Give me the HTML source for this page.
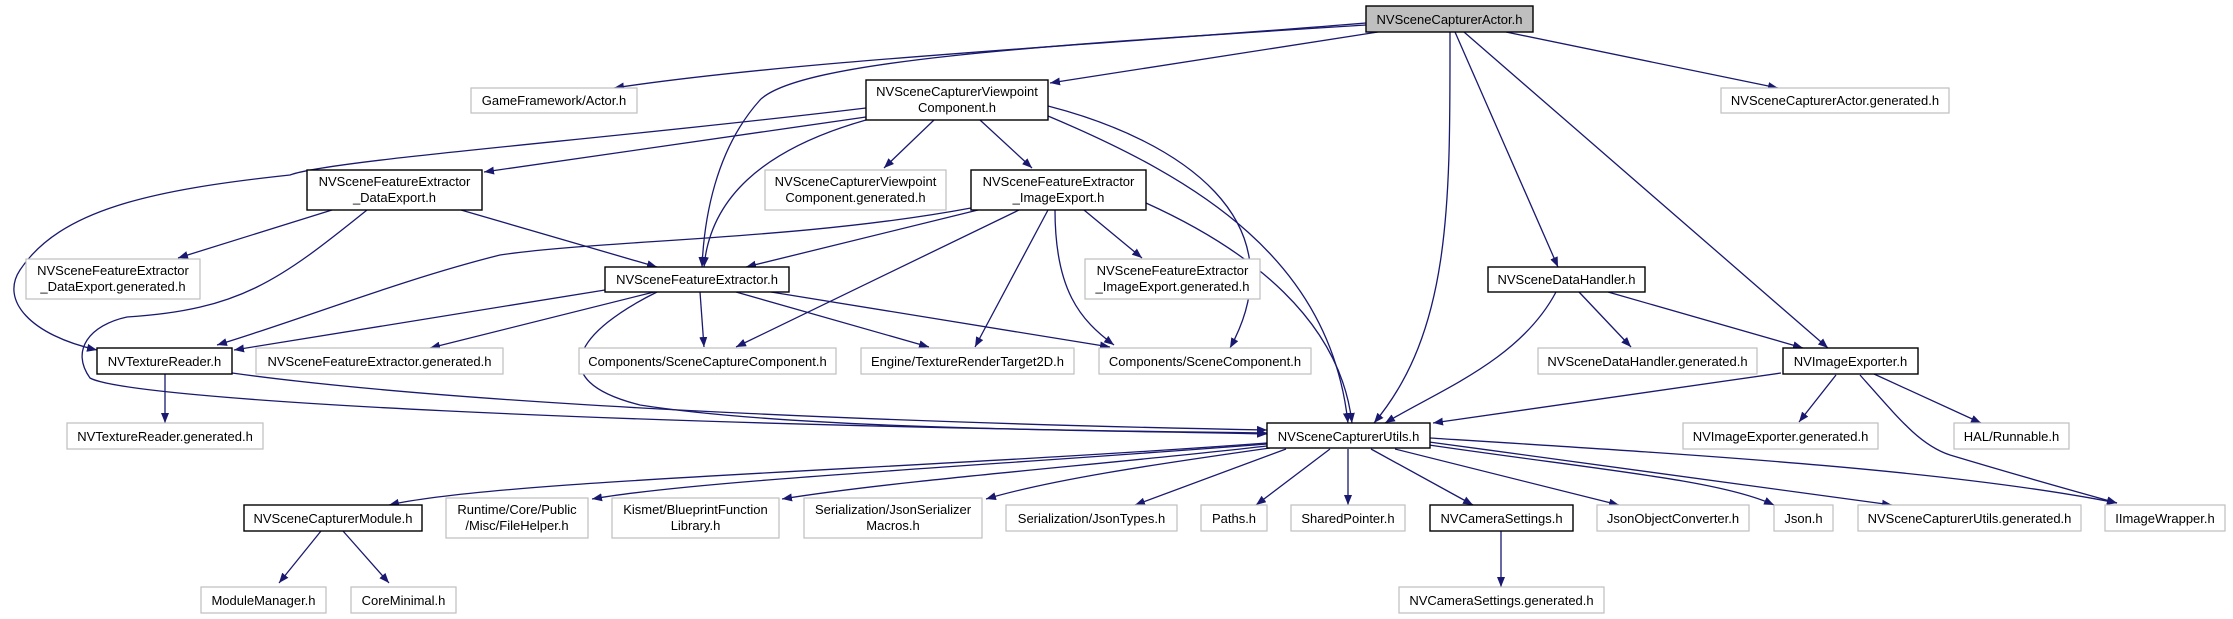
<!DOCTYPE html>
<html><head><meta charset="utf-8"><style>
html,body{margin:0;padding:0;background:#fff;}
svg{display:block;}
text{font-family:"Liberation Sans",sans-serif;font-size:13px;fill:#000;}
.e{fill:none;stroke:#191970;stroke-width:1.3;}
.b{fill:#fff;stroke:#000;stroke-width:1.4;}
.g{fill:#fff;stroke:#bfbfbf;stroke-width:1.2;}
.a{fill:#bfbfbf;stroke:#000;stroke-width:1.4;}
</style></head><body>
<svg width="2233" height="619" viewBox="0 0 2233 619" xmlns="http://www.w3.org/2000/svg">
<defs><marker id="m" viewBox="0 0 10 8" refX="10" refY="4" markerWidth="10" markerHeight="8" markerUnits="userSpaceOnUse" orient="auto"><path d="M0,0 L10,4 L0,8 z" fill="#191970"/></marker></defs>
<g class="e" marker-end="url(#m)">
<!-- Actor -->
<path d="M1366,23 C1100,45 800,60 614,88"/>
<path d="M1366,25 C1050,45 800,60 760,100 C715,150 704,220 702,267"/>
<path d="M1378,32 L1050,83"/>
<path d="M1450,32 C1450,200 1452,330 1374,423"/>
<path d="M1455,32 L1558,267"/>
<path d="M1464,32 L1828,348"/>
<path d="M1506,32 L1778,88"/>
<!-- Viewpoint -->
<path d="M866,108 C600,140 330,160 290,175 C150,190 60,210 20,270 C0,300 30,335 97,350"/>
<path d="M866,117 L484,172"/>
<path d="M866,120 C760,150 710,200 704,267"/>
<path d="M934,120 L884,168"/>
<path d="M980,120 L1032,168"/>
<path d="M1048,106 C1180,140 1300,220 1230,348"/>
<path d="M1048,116 C1200,180 1330,260 1348,423"/>
<!-- DataExport -->
<path d="M332,210 L178,258"/>
<path d="M461,210 L657,267"/>
<path d="M367,210 C280,280 240,310 127,317 C90,325 70,350 90,378 C130,400 600,425 1267,433"/>
<!-- ImageExport -->
<path d="M971,208 C800,240 600,240 500,255 C400,280 300,320 217,345"/>
<path d="M978,210 L746,267"/>
<path d="M1019,210 L736,347"/>
<path d="M1048,210 L975,347"/>
<path d="M1055,210 C1055,290 1080,320 1114,345"/>
<path d="M1084,210 L1142,258"/>
<path d="M1146,203 C1250,250 1340,320 1352,423"/>
<!-- FeatureExtractor -->
<path d="M605,290 L234,350"/>
<path d="M654,292 L430,348"/>
<path d="M700,292 L704,347"/>
<path d="M736,292 L929,347"/>
<path d="M771,292 L1110,347"/>
<path d="M657,292 C580,330 540,380 640,405 C800,430 1100,430 1267,434"/>
<!-- TextureReader -->
<path d="M165,374 L165,423"/>
<path d="M232,373 C500,410 1000,425 1267,430"/>
<!-- DataHandler -->
<path d="M1556,292 C1520,360 1440,390 1385,423"/>
<path d="M1579,292 L1631,347"/>
<path d="M1608,292 L1803,348"/>
<!-- ImageExporter -->
<path d="M1781,373 L1433,423"/>
<path d="M1836,375 L1799,422"/>
<path d="M1874,374 L1981,423"/>
<path d="M1860,375 C1900,420 1920,445 1950,455 C2000,470 2070,490 2117,503"/>
<!-- Utils -->
<path d="M1267,443 C900,470 500,480 389,505"/>
<path d="M1267,444 C1000,465 700,480 592,499"/>
<path d="M1267,446 C1100,465 900,480 782,499"/>
<path d="M1270,448 C1150,465 1050,480 986,499"/>
<path d="M1286,449 L1135,505"/>
<path d="M1330,449 L1256,505"/>
<path d="M1348,449 L1348,505"/>
<path d="M1371,449 L1473,505"/>
<path d="M1395,449 L1619,505"/>
<path d="M1429,445 C1600,470 1720,480 1774,505"/>
<path d="M1429,442 C1600,465 1780,490 1892,505"/>
<path d="M1430,438 C1700,455 1950,470 2117,503"/>
<!-- others -->
<path d="M1501,531 L1501,587"/>
<path d="M321,531 L279,583"/>
<path d="M343,531 L389,583"/>
</g>
<!-- nodes -->
<rect class="a" x="1366" y="6" width="167" height="26"/><text x="1449.5" y="24" text-anchor="middle">NVSceneCapturerActor.h</text>
<rect class="g" x="471" y="88" width="166" height="25"/><text x="554" y="105" text-anchor="middle">GameFramework/Actor.h</text>
<rect class="g" x="1721" y="88" width="228" height="25"/><text x="1835" y="105" text-anchor="middle">NVSceneCapturerActor.generated.h</text>
<rect class="b" x="866" y="80" width="182" height="40"/><text x="957" y="96" text-anchor="middle">NVSceneCapturerViewpoint</text><text x="957" y="112" text-anchor="middle">Component.h</text>
<rect class="b" x="307" y="170" width="175" height="40"/><text x="394.5" y="186" text-anchor="middle">NVSceneFeatureExtractor</text><text x="394.5" y="202" text-anchor="middle">_DataExport.h</text>
<rect class="g" x="765" y="170" width="181" height="40"/><text x="855.5" y="186" text-anchor="middle">NVSceneCapturerViewpoint</text><text x="855.5" y="202" text-anchor="middle">Component.generated.h</text>
<rect class="b" x="971" y="170" width="175" height="40"/><text x="1058.5" y="186" text-anchor="middle">NVSceneFeatureExtractor</text><text x="1058.5" y="202" text-anchor="middle">_ImageExport.h</text>
<rect class="g" x="26" y="259" width="174" height="40"/><text x="113" y="275" text-anchor="middle">NVSceneFeatureExtractor</text><text x="113" y="291" text-anchor="middle">_DataExport.generated.h</text>
<rect class="g" x="1085" y="259" width="175" height="40"/><text x="1172.5" y="275" text-anchor="middle">NVSceneFeatureExtractor</text><text x="1172.5" y="291" text-anchor="middle">_ImageExport.generated.h</text>
<rect class="b" x="605" y="267" width="184" height="25"/><text x="697" y="284" text-anchor="middle">NVSceneFeatureExtractor.h</text>
<rect class="b" x="1488" y="267" width="157" height="25"/><text x="1566.5" y="284" text-anchor="middle">NVSceneDataHandler.h</text>
<rect class="b" x="97" y="348" width="135" height="26"/><text x="164.5" y="366" text-anchor="middle">NVTextureReader.h</text>
<rect class="g" x="256" y="348" width="247" height="26"/><text x="379.5" y="366" text-anchor="middle">NVSceneFeatureExtractor.generated.h</text>
<rect class="g" x="579" y="348" width="257" height="26"/><text x="707.5" y="366" text-anchor="middle">Components/SceneCaptureComponent.h</text>
<rect class="g" x="861" y="348" width="213" height="26"/><text x="967.5" y="366" text-anchor="middle">Engine/TextureRenderTarget2D.h</text>
<rect class="g" x="1099" y="348" width="212" height="26"/><text x="1205" y="366" text-anchor="middle">Components/SceneComponent.h</text>
<rect class="g" x="1538" y="348" width="219" height="26"/><text x="1647.5" y="366" text-anchor="middle">NVSceneDataHandler.generated.h</text>
<rect class="b" x="1783" y="348" width="135" height="26"/><text x="1850.5" y="366" text-anchor="middle">NVImageExporter.h</text>
<rect class="g" x="67" y="423" width="196" height="26"/><text x="165" y="441" text-anchor="middle">NVTextureReader.generated.h</text>
<rect class="b" x="1267" y="423" width="163" height="25"/><text x="1348.5" y="441" text-anchor="middle">NVSceneCapturerUtils.h</text>
<rect class="g" x="1683" y="423" width="195" height="26"/><text x="1780.5" y="441" text-anchor="middle">NVImageExporter.generated.h</text>
<rect class="g" x="1954" y="423" width="115" height="26"/><text x="2011.5" y="441" text-anchor="middle">HAL/Runnable.h</text>
<rect class="b" x="244" y="505" width="178" height="26"/><text x="333" y="523" text-anchor="middle">NVSceneCapturerModule.h</text>
<rect class="g" x="446" y="498" width="142" height="40"/><text x="517" y="514" text-anchor="middle">Runtime/Core/Public</text><text x="517" y="530" text-anchor="middle">/Misc/FileHelper.h</text>
<rect class="g" x="612" y="498" width="167" height="40"/><text x="695.5" y="514" text-anchor="middle">Kismet/BlueprintFunction</text><text x="695.5" y="530" text-anchor="middle">Library.h</text>
<rect class="g" x="804" y="498" width="178" height="40"/><text x="893" y="514" text-anchor="middle">Serialization/JsonSerializer</text><text x="893" y="530" text-anchor="middle">Macros.h</text>
<rect class="g" x="1006" y="505" width="171" height="26"/><text x="1091.5" y="523" text-anchor="middle">Serialization/JsonTypes.h</text>
<rect class="g" x="1201" y="505" width="66" height="26"/><text x="1234" y="523" text-anchor="middle">Paths.h</text>
<rect class="g" x="1291" y="505" width="114" height="26"/><text x="1348" y="523" text-anchor="middle">SharedPointer.h</text>
<rect class="b" x="1430" y="505" width="143" height="26"/><text x="1501.5" y="523" text-anchor="middle">NVCameraSettings.h</text>
<rect class="g" x="1597" y="505" width="152" height="26"/><text x="1673" y="523" text-anchor="middle">JsonObjectConverter.h</text>
<rect class="g" x="1774" y="505" width="59" height="26"/><text x="1803.5" y="523" text-anchor="middle">Json.h</text>
<rect class="g" x="1858" y="505" width="223" height="26"/><text x="1969.5" y="523" text-anchor="middle">NVSceneCapturerUtils.generated.h</text>
<rect class="g" x="2105" y="505" width="120" height="26"/><text x="2165" y="523" text-anchor="middle">IImageWrapper.h</text>
<rect class="g" x="201" y="587" width="125" height="26"/><text x="263.5" y="605" text-anchor="middle">ModuleManager.h</text>
<rect class="g" x="351" y="587" width="105" height="26"/><text x="403.5" y="605" text-anchor="middle">CoreMinimal.h</text>
<rect class="g" x="1399" y="587" width="205" height="26"/><text x="1501.5" y="605" text-anchor="middle">NVCameraSettings.generated.h</text>
</svg>
</body></html>
